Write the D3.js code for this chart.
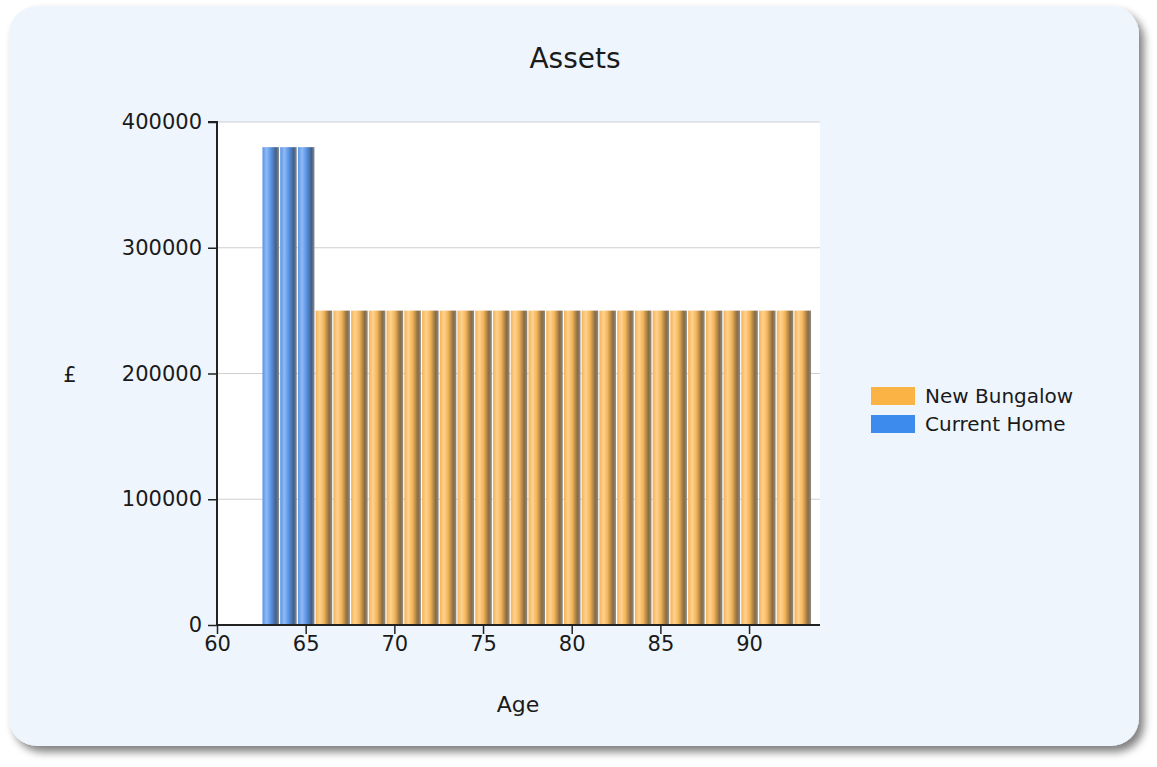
<!DOCTYPE html>
<html>
<head>
<meta charset="utf-8">
<script src="https://cdn.jsdelivr.net/npm/d3@7"></script>
<style>
  html, body { margin: 0; padding: 0; background: #ffffff; }
  svg { display: block; }
  text { font-family: "DejaVu Sans", sans-serif; fill: #1a1a1a; }
</style>
</head>
<body>
<svg id="chart" width="1157" height="767"></svg>
<script>
// Asset values by age
const currentHomeAges = [63, 64, 65];
const currentHomeValues = [380000, 380000, 380000];
const newBungalowAges = [66, 67, 68, 69, 70, 71, 72, 73, 74, 75, 76, 77, 78, 79,
                         80, 81, 82, 83, 84, 85, 86, 87, 88, 89, 90, 91, 92, 93];
const newBungalowValues = [250000, 250000, 250000, 250000, 250000, 250000, 250000,
                           250000, 250000, 250000, 250000, 250000, 250000, 250000,
                           250000, 250000, 250000, 250000, 250000, 250000, 250000,
                           250000, 250000, 250000, 250000, 250000, 250000, 250000];
const xTicks = [60, 65, 70, 75, 80, 85, 90];
const yTicks = [0, 100000, 200000, 300000, 400000];
const legendItems = ["New Bungalow", "Current Home"];

const svg = d3.select("#chart");
const defs = svg.append("defs");

// panel shadow
const shadow = defs.append("filter").attr("id", "panelShadow")
  .attr("x", "-5%").attr("y", "-5%").attr("width", "115%").attr("height", "115%");
shadow.append("feGaussianBlur").attr("in", "SourceAlpha").attr("stdDeviation", 4).attr("result", "b");
shadow.append("feOffset").attr("in", "b").attr("dx", 5).attr("dy", 6).attr("result", "o");
shadow.append("feComponentTransfer").attr("in", "o").attr("result", "s")
  .append("feFuncA").attr("type", "linear").attr("slope", 0.5);
const merge = shadow.append("feMerge");
merge.append("feMergeNode").attr("in", "s");
merge.append("feMergeNode").attr("in", "SourceGraphic");

// cylinder-style gradients for bars
function cylinder(id, edge, light, dark) {
  const g = defs.append("linearGradient").attr("id", id)
    .attr("x1", "0%").attr("x2", "100%").attr("y1", "0%").attr("y2", "0%");
  [[0, edge], [0.25, light], [0.5, edge], [0.82, dark], [1, "#8a8a8a"]]
    .forEach(([o, c]) => g.append("stop").attr("offset", o).attr("stop-color", c));
}
cylinder("gradHome", "#5b95e6", "#8fbaf5", "#42608a");
cylinder("gradBungalow", "#f3b457", "#ffd190", "#8a6c42");

// background panel
svg.append("rect")
  .attr("x", 9).attr("y", 6).attr("width", 1130).attr("height", 740)
  .attr("rx", 28).attr("ry", 28)
  .attr("fill", "#eef5fd")
  .attr("filter", "url(#panelShadow)");

const plot = { left: 217, right: 820, top: 122, bottom: 625 };

const x = d3.scaleLinear().domain([60, 94]).range([plot.left, plot.right]);
const y = d3.scaleLinear().domain([0, 400000]).range([plot.bottom, plot.top]);

// plot background
svg.append("rect")
  .attr("x", plot.left).attr("y", plot.top)
  .attr("width", plot.right - plot.left).attr("height", plot.bottom - plot.top)
  .attr("fill", "#ffffff");

// gridlines
svg.append("g").selectAll("line").data(yTicks.filter(d => d > 0)).join("line")
  .attr("x1", plot.left).attr("x2", plot.right)
  .attr("y1", d => y(d)).attr("y2", d => y(d))
  .attr("stroke", "#cfcfcf").attr("stroke-width", 1);

// bars
const barW = (x(61) - x(60)) - 1.2;
function drawBars(ages, values, fill) {
  svg.append("g").selectAll("rect").data(ages.map((a, i) => ({ a, v: values[i] }))).join("rect")
    .attr("x", d => x(d.a) - barW / 2 + 0.5)
    .attr("width", barW)
    .attr("y", d => y(d.v))
    .attr("height", d => y(0) - y(d.v))
    .attr("fill", fill);
}
drawBars(currentHomeAges, currentHomeValues, "url(#gradHome)");
drawBars(newBungalowAges, newBungalowValues, "url(#gradBungalow)");

// axes
const yAxis = svg.append("g").attr("transform", `translate(${plot.left},0)`)
  .call(d3.axisLeft(y).tickValues(yTicks).tickFormat(d3.format("d")).tickSize(9).tickPadding(6));
const xAxis = svg.append("g").attr("transform", `translate(0,${plot.bottom})`)
  .call(d3.axisBottom(x).tickValues(xTicks).tickFormat(d3.format("d")).tickSize(9).tickPadding(2));
[yAxis, xAxis].forEach(a => {
  a.select(".domain").attr("stroke", "#222").attr("stroke-width", 2);
  a.selectAll(".tick line").attr("stroke", "#222").attr("stroke-width", 1.5);
  a.selectAll(".tick text").attr("font-size", 21).attr("fill", "#1a1a1a")
    .attr("font-family", "'DejaVu Sans', sans-serif");
});
yAxis.select(".domain").attr("d", `M-9,${plot.top}H0V${plot.bottom}`);
xAxis.select(".domain").attr("d", `M${plot.left},0H${plot.right}`);

// titles
svg.append("text").attr("x", 575).attr("y", 68).attr("text-anchor", "middle")
  .attr("font-size", 28).text("Assets");
svg.append("text").attr("x", 518).attr("y", 712).attr("text-anchor", "middle")
  .attr("font-size", 22).text("Age");
svg.append("text").attr("x", 70).attr("y", 382).attr("text-anchor", "middle")
  .attr("font-size", 21).text("£");

// legend
const legendColors = ["#fbb346", "#3d8bec"];
const legend = svg.append("g").attr("transform", "translate(871,387)");
legendItems.forEach((name, i) => {
  const g = legend.append("g").attr("transform", `translate(0,${i * 28})`);
  g.append("rect").attr("width", 44).attr("height", 18).attr("fill", legendColors[i]);
  g.append("text").attr("x", 54).attr("y", 16).attr("font-size", 20).text(name);
});
</script>
</body>
</html>
